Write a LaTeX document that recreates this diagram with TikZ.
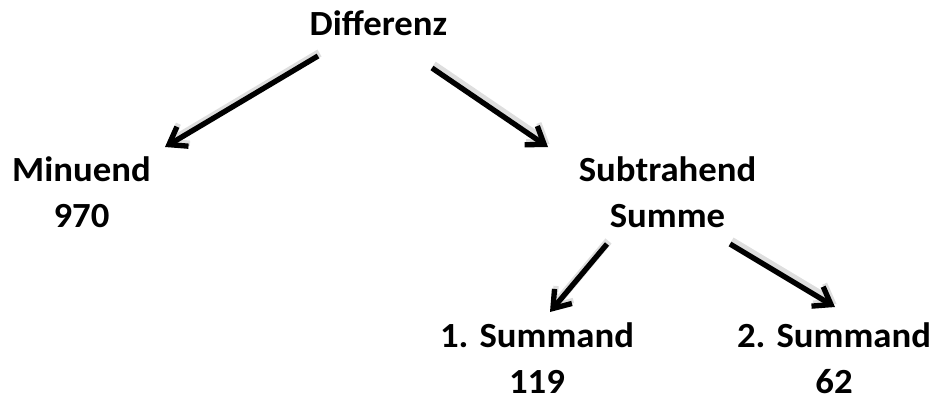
\documentclass[tikz,border=0pt]{standalone}
\usepackage{fontspec}
\setmainfont{Carlito}[FakeStretch=1.04]
\usetikzlibrary{arrows.meta,calc}

\tikzset{every picture/.style={line width=0.75pt}}
\tikzset{
	lbl/.style={font=\bfseries\fontsize{26.5}{34.2}\selectfont, align=center, inner sep=0pt, anchor=base},
	treearrow/.style={line width=4pt, -{Straight Barb[length=12pt,width=17pt,line width=4pt]},
		preaction={draw=black!13, line width=6pt, transform canvas={shift={(1.5,3)}}}}}

\begin{document}
\begin{tikzpicture}[x=0.75pt,y=0.75pt,yscale=-1,xscale=1]
	\useasboundingbox (0,0) rectangle (939,403);

	% Text Node
	\node [lbl] (diff) at (378.5,36) {Differenz};
	% Text Node
	\node [lbl] (minu) at (81.5,227.3) {Minuend\\970};
	% Text Node
	\node [lbl] (subt) at (667.5,227.3) {Subtrahend\\Summe};
	% Text Node
	\node [lbl] (sumone) at (537,393) {1. Summand\\119};
	% Text Node
	\node [lbl] (sumtwo) at (834,393) {2. Summand\\62};

	%Straight Lines
	\draw [treearrow] ($(diff.base)+(-60.5,20)$) -- ($(minu.base)+(83.5,-80.3)$);
	%Straight Lines
	\draw [treearrow] ($(diff.base)+(53.5,32)$) -- ($(subt.base)+(-119.5,-80.3)$);
	%Straight Lines
	\draw [treearrow] ($(subt.base)+(-60.5,16.7)$) -- ($(sumone.base)+(13,-81)$);
	%Straight Lines
	\draw [treearrow] ($(subt.base)+(62.5,16.7)$) -- ($(sumtwo.base)+(1,-86)$);

\end{tikzpicture}
\end{document}
